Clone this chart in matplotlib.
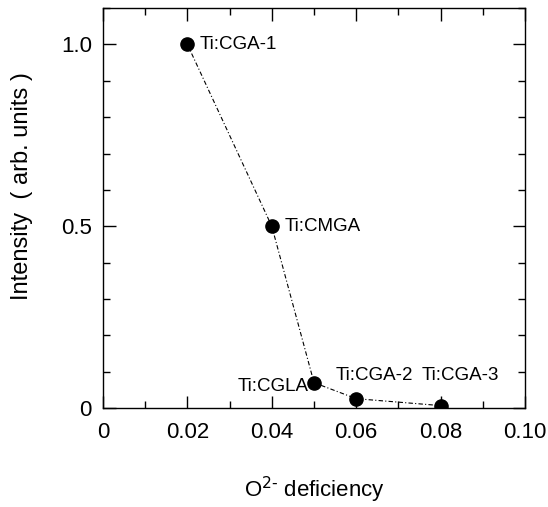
import matplotlib
matplotlib.use("Agg")
import matplotlib.pyplot as plt
from matplotlib.ticker import MultipleLocator

plt.rcParams['font.family'] = ['Liberation Sans', 'DejaVu Sans']

deficiency = [0.02, 0.04, 0.05, 0.06, 0.08]
intensity = [1.0, 0.5, 0.07, 0.026, 0.007]
labels = ["Ti:CGA-1", "Ti:CMGA", "Ti:CGLA", "Ti:CGA-2", "Ti:CGA-3"]
label_offsets = [(9, 0), (9, 0), (-4, -3), (13, 17), (14, 22)]
label_ha = ["left", "left", "right", "center", "center"]

fig = plt.figure(figsize=(5.48, 5.07), dpi=100)
ax = fig.add_axes([0.188, 0.195, 0.770, 0.789])

ax.plot(deficiency, intensity, linestyle=(0, (4, 2, 1, 2)), color="black",
        linewidth=0.8, marker="o", markersize=9.5, markerfacecolor="black",
        markeredgecolor="black")

for x, y, t, off, ha in zip(deficiency, intensity, labels, label_offsets, label_ha):
    ax.annotate(t, (x, y), xytext=off, textcoords="offset points",
                ha=ha, va="center", fontsize=13.5)

ax.set_xlim(0, 0.10)
ax.set_ylim(0, 1.1)
ax.xaxis.set_minor_locator(MultipleLocator(0.01))
ax.yaxis.set_minor_locator(MultipleLocator(0.1))
ax.set_xticks([0, 0.02, 0.04, 0.06, 0.08, 0.10])
ax.set_xticklabels(["0", "0.02", "0.04", "0.06", "0.08", "0.10"])
ax.set_yticks([0, 0.5, 1.0])
ax.set_yticklabels(["0", "0.5", "1.0"])

ax.tick_params(which="both", direction="in", top=True, right=True, labelsize=16, width=1.0)
ax.tick_params(axis="x", which="major", length=9, pad=10)
ax.tick_params(axis="y", which="major", length=9, pad=8)
ax.tick_params(which="minor", length=5)
for s in ax.spines.values():
    s.set_linewidth(1.0)

ax.set_xlabel("O$^{2\\text{-}}$ deficiency", fontsize=16, labelpad=23)
ax.set_ylabel("Intensity  ( arb. units )", fontsize=17)
ax.yaxis.set_label_coords(-0.166, 0.555)

fig.savefig("out.png", dpi=100)
